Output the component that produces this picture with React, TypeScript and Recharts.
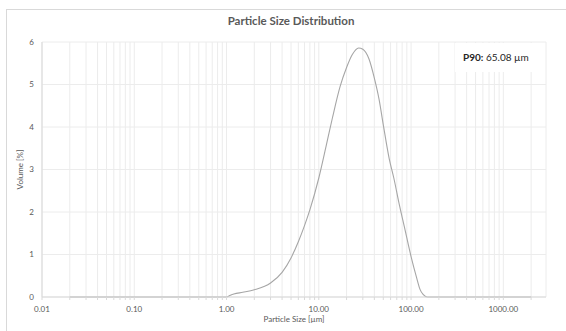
import React from 'react';
import { LineChart, Line, CartesianGrid, XAxis, YAxis, Label } from 'recharts';

// particle size (µm) and volume (%)
const sizes = [0.02, 0.05, 0.1, 0.2, 0.5, 1.0, 1.1, 1.2, 1.5, 2, 3, 4, 5, 6, 7, 8, 10, 12, 14, 17, 20, 23, 27, 30, 35, 40, 45, 50, 58, 65, 75, 85, 100, 115, 125, 135, 150, 200, 500, 1000, 2000];
const volumes = [0, 0, 0, 0, 0, 0, 0.04, 0.07, 0.11, 0.17, 0.33, 0.58, 0.92, 1.3, 1.68, 2.05, 2.8, 3.55, 4.2, 4.95, 5.4, 5.7, 5.86, 5.83, 5.6, 5.15, 4.65, 4.05, 3.25, 2.8, 2.15, 1.63, 0.95, 0.45, 0.18, 0.06, 0, 0, 0, 0, 0];

const xTicks = [
    0.01, 0.02, 0.03, 0.04, 0.05, 0.06, 0.07, 0.08, 0.09,
    0.1, 0.2, 0.3, 0.4, 0.5, 0.6, 0.7, 0.8, 0.9,
    1, 2, 3, 4, 5, 6, 7, 8, 9,
    10, 20, 30, 40, 50, 60, 70, 80, 90,
    100, 200, 300, 400, 500, 600, 700, 800, 900,
    1000, 2000,
];
const decadeLabels: Record<string, string> = { '0.01': '0.01', '0.1': '0.10', '1': '1.00', '10': '10.00', '100': '100.00', '1000': '1000.00' };
const yTicks = [0, 1, 2, 3, 4, 5, 6];

const data = sizes.map((s, i) => ({ size: s, volume: volumes[i] }));

const font = 'Lato, "Open Sans", sans-serif';
const textColor = '#595959';

export default function App() {
    return (
        <div style={{ position: 'absolute', left: 0, top: 0, width: 566, height: 331, background: '#fff', overflow: 'hidden', fontFamily: font }}>
            <div style={{ position: 'absolute', left: 6, top: 9, width: 570, height: 330, border: '1px solid #d9d9d9' }} />
            <div style={{ position: 'absolute', left: 8, top: 14, width: 566, textAlign: 'center', fontSize: 11.5, fontWeight: 700, color: textColor }}>
                Particle Size Distribution
            </div>
            <LineChart width={566} height={331} data={data} margin={{ top: 42, right: 20, bottom: 0, left: 12 }} style={{ position: 'absolute', left: 0, top: 0 }}>
                <CartesianGrid stroke="#ececec" strokeWidth={1} />
                <XAxis
                    dataKey="size"
                    type="number"
                    scale="log"
                    domain={[0.01, 2900]}
                    allowDataOverflow
                    ticks={xTicks}
                    interval={0}
                    tickFormatter={(v: number) => decadeLabels[String(v)] ?? ''}
                    height={34}
                    tickSize={3}
                    tickMargin={6}
                    stroke="#d9d9d9"
                    tick={{ fill: textColor, fontSize: 8, fontFamily: font }}
                >
                    <Label value="Particle Size [µm]" position="insideBottom" offset={9} style={{ fill: textColor, fontSize: 8, fontFamily: font }} />
                </XAxis>
                <YAxis
                    type="number"
                    domain={[0, 6]}
                    ticks={yTicks}
                    width={30}
                    tickLine={false}
                    tickMargin={2}
                    stroke="#d9d9d9"
                    tick={{ fill: textColor, fontSize: 8, fontFamily: font }}
                >
                    <Label value="Volume [%]" angle={-90} position="insideLeft" offset={8} style={{ fill: textColor, fontSize: 8, fontFamily: font, textAnchor: 'middle' }} />
                </YAxis>
                <Line type="monotone" dataKey="volume" stroke="#a6a6a6" strokeWidth={1.1} dot={false} isAnimationActive={false} />
            </LineChart>
            <div style={{ position: 'absolute', left: 455, top: 43, width: 90, height: 29, background: '#fff', fontSize: 10, color: '#262626', lineHeight: '29px', paddingLeft: 8, boxSizing: 'border-box' }}>
                <b>P90:</b> 65.08 µm
            </div>
        </div>
    );
}
